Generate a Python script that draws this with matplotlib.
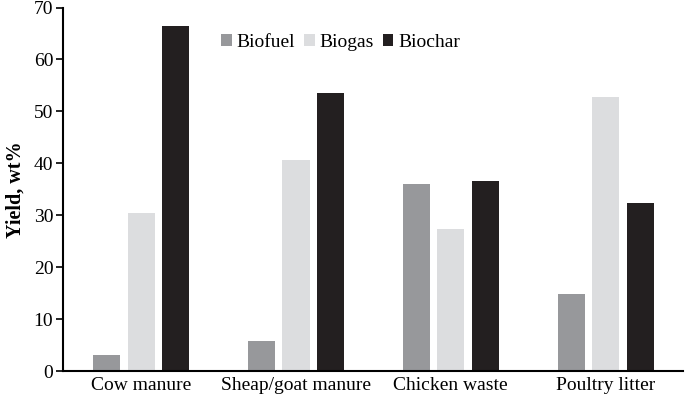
import matplotlib
matplotlib.use("Agg")
import matplotlib.pyplot as plt
import numpy as np

categories = ["Cow manure", "Sheap/goat manure", "Chicken waste", "Poultry litter"]
series_names = ["Biofuel", "Biogas", "Biochar"]
biofuel = [3.0, 5.8, 36.1, 14.9]
biogas = [30.4, 40.7, 27.3, 52.7]
biochar = [66.5, 53.5, 36.5, 32.3]
colors = ["#97989b", "#dcdddf", "#231f20"]
yticks = [0, 10, 20, 30, 40, 50, 60, 70]

plt.rcParams['font.family'] = ['Liberation Serif', 'DejaVu Serif']

fig = plt.figure(figsize=(6.85, 3.98), dpi=100)
ax = fig.add_axes([63/685, (398-371)/398, 620/685, 363.5/398])

x = np.arange(len(categories))
w = 0.175
off = 0.223
for i, (vals, name) in enumerate(zip([biofuel, biogas, biochar], series_names)):
    ax.bar(x + (i - 1) * off, vals, width=w, color=colors[i], label=name, linewidth=0)

ax.set_xlim(-0.505, 3.5)
ax.set_ylim(0, 70)
ax.set_yticks(yticks)
ax.set_xticks(x)
ax.set_xticklabels(categories, fontsize=14)
ax.tick_params(axis='x', length=0, pad=4)
ax.tick_params(axis='y', length=5, width=1.2, labelsize=14, pad=2)
for s in ['top', 'right']:
    ax.spines[s].set_visible(False)
for s in ['left', 'bottom']:
    ax.spines[s].set_linewidth(1.5)
ax.set_ylabel("Yield, wt%", fontsize=14.5, fontweight='bold', labelpad=6)

leg = ax.legend(loc='center', bbox_to_anchor=(0.448, 0.905), ncol=3, frameon=False,
                fontsize=14, handlelength=0.55, handleheight=0.55, handletextpad=0.25,
                columnspacing=0.45)

fig.savefig("out.png", dpi=100)
